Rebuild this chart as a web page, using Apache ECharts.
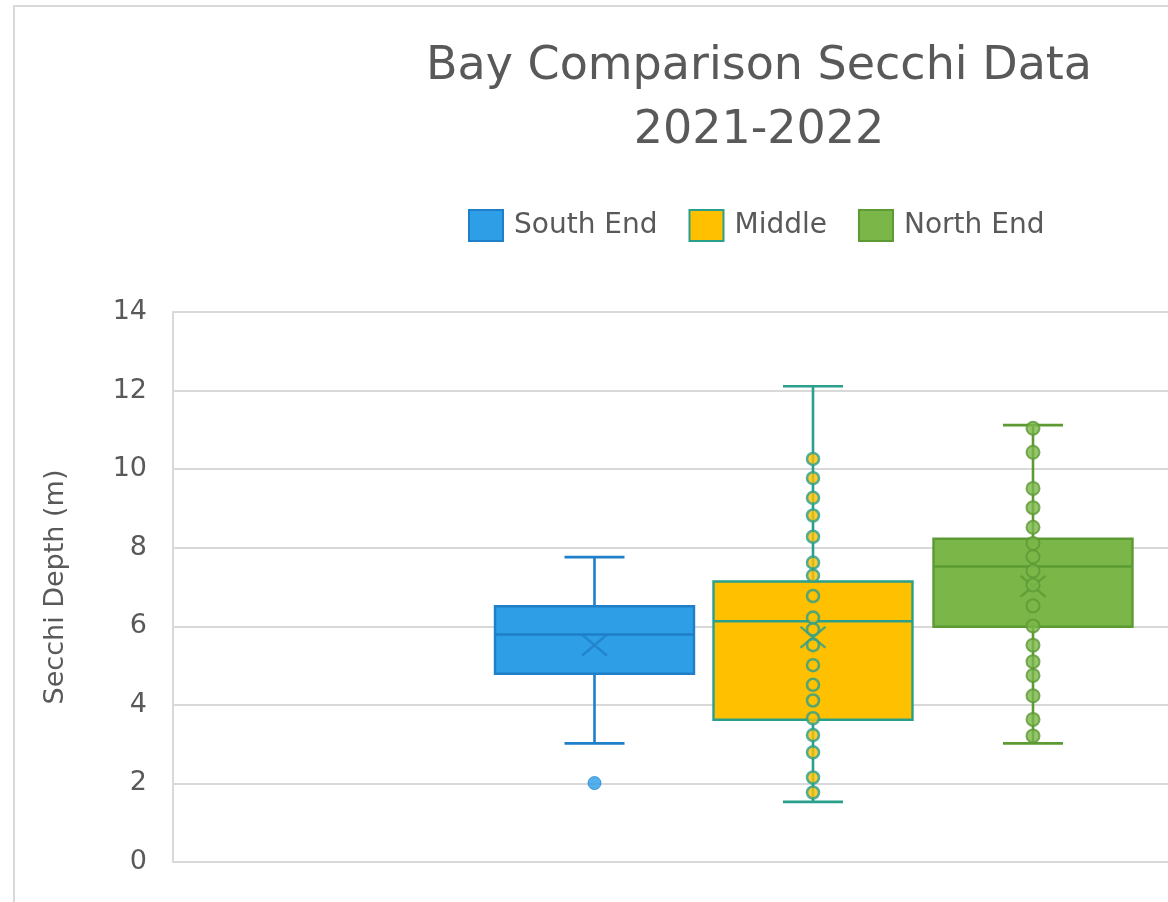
<!DOCTYPE html>
<html>
<head>
<meta charset="utf-8">
<script src="https://cdn.jsdelivr.net/npm/echarts@6/dist/echarts.min.js"></script>
<style>
  html, body { margin: 0; padding: 0; background: #ffffff; }
  #chart { width: 1168px; height: 902px; position: absolute; left: 0; top: 0; }
  #frame { position: absolute; left: 13px; top: 5px; width: 1200px; height: 950px;
           border-left: 2px solid #d9d9d9; border-top: 2px solid #d9d9d9; pointer-events: none; }
</style>
</head>
<body>
<div id="chart"></div>
<div id="frame"></div>
<script>
// ---- data ----
const groups = ['South End', 'Middle', 'North End'];
// [min, Q1, median, Q3, max]
const southBox  = [3.02, 4.79, 5.79, 6.51, 7.76];
const middleBox = [1.53, 3.62, 6.13, 7.14, 12.11];
const northBox  = [3.02, 5.99, 7.52, 8.23, 11.12];
const southMean  = 5.52;
const middleMean = 5.72;
const northMean  = 7.02;
const southOutliers = [2.01];
const middlePoints = [10.26, 9.77, 9.27, 8.82, 8.28, 7.62, 7.29, 6.77, 6.22, 5.92, 5.52,
                      5.01, 4.51, 4.11, 3.66, 3.23, 2.79, 2.15, 1.77];
const northPoints = [11.04, 10.43, 9.51, 9.02, 8.52, 8.11, 7.77, 7.41, 7.05, 6.52, 6.01,
                     5.52, 5.10, 4.75, 4.23, 3.63, 3.21];
const yMin = 0, yMax = 14, yInterval = 2;

// ---- styling ----
const fills   = ['#2e9fe7', '#ffc000', '#7ab648'];
const borders = ['#1f7fc8', '#2a9f8c', '#5c9a34'];
const textColor = '#595959';
const font = 'DejaVu Sans';
const centers = [594.5, 813, 1033];
const gridW = 200;

const boxes = [southBox, middleBox, northBox];
const means = [southMean, middleMean, northMean];

const grids = [{ left: 173, right: -283, top: 312, bottom: 40 }];
const xAxes = [{
  gridIndex: 0, type: 'category', data: [''],
  axisLine: { show: true, lineStyle: { color: '#d9d9d9', width: 2 } },
  axisTick: { show: false }, axisLabel: { show: false }
}];
const yAxes = [{
  gridIndex: 0, type: 'value', min: yMin, max: yMax, interval: yInterval,
  name: 'Secchi Depth (m)', nameLocation: 'middle', nameRotate: 90, nameGap: 104,
  nameTextStyle: { fontFamily: font, fontSize: 27, color: textColor },
  axisLine: { show: true, lineStyle: { color: '#d9d9d9', width: 2 } },
  axisTick: { show: false },
  axisLabel: { fontFamily: font, fontSize: 27, color: textColor, margin: 26 },
  splitLine: { show: true, lineStyle: { color: '#d9d9d9', width: 2 } }
}];
const series = [];

groups.forEach((g, i) => {
  const gi = i + 1;
  grids.push({ left: centers[i] - gridW / 2, width: gridW, top: 312, bottom: 40 });
  // axis for whiskers and axis for box body
  xAxes.push({ gridIndex: gi, type: 'category', data: [g], show: false });
  xAxes.push({ gridIndex: gi, type: 'category', data: [g], show: false });
  yAxes.push({ gridIndex: gi, type: 'value', min: yMin, max: yMax, show: false, splitLine: { show: false } });
  const xw = xAxes.length - 2, xb = xAxes.length - 1, yi = yAxes.length - 1;
  const b = boxes[i];
  // whiskers with short caps
  series.push({
    type: 'boxplot', name: g, xAxisIndex: xw, yAxisIndex: yi, boxWidth: [60, 60], z: 2,
    itemStyle: { color: 'transparent', borderColor: borders[i], borderWidth: 2.6 },
    data: [[b[0], b[2], b[2], b[2], b[4]]], silent: true
  });
  // box body with median
  series.push({
    type: 'boxplot', name: g, xAxisIndex: xb, yAxisIndex: yi, boxWidth: [199, 199], z: 3,
    itemStyle: { color: fills[i], borderColor: borders[i], borderWidth: 2.4 },
    data: [[b[1], b[1], b[2], b[3], b[3]]], silent: true
  });
  // mean marker (X)
  series.push({
    type: 'scatter', name: g, xAxisIndex: xb, yAxisIndex: yi, z: 5,
    symbol: 'path://M0,0L10,10M10,0L0,10', symbolSize: [25, 21],
    itemStyle: { color: 'none', borderColor: borders[i], borderWidth: 2.4 },
    data: [[g, means[i]]], silent: true
  });
});

// inner points / outliers
series.push({
  type: 'scatter', name: 'South End', xAxisIndex: 2, yAxisIndex: 1, z: 6,
  symbol: 'circle', symbolSize: 13,
  itemStyle: { color: '#2b9be5', borderColor: '#2288d6', borderWidth: 1 },
  data: southOutliers.map(v => [groups[0], v]), silent: true
});
series.push({
  type: 'scatter', name: 'Middle', xAxisIndex: 4, yAxisIndex: 2, z: 6,
  symbol: 'circle', symbolSize: 12,
  itemStyle: { color: fills[1], borderColor: borders[1], borderWidth: 2.6 },
  data: middlePoints.map(v => [groups[1], v]), silent: true
});
series.push({
  type: 'scatter', name: 'North End', xAxisIndex: 6, yAxisIndex: 3, z: 6,
  symbol: 'circle', symbolSize: 13,
  itemStyle: { color: fills[2], borderColor: borders[2], borderWidth: 2 },
  data: northPoints.map(v => [groups[2], v]), silent: true
});

const chart = echarts.init(document.getElementById('chart'), null, { renderer: 'canvas' });
chart.setOption({
  backgroundColor: '#ffffff',
  animation: false,
  title: {
    text: 'Bay Comparison Secchi Data\n2021-2022',
    left: 754, top: 30, textAlign: 'center',
    textStyle: { fontFamily: font, fontSize: 46, fontWeight: 'normal', color: textColor, lineHeight: 64 }
  },
  legend: {
    left: 463, top: 204, itemWidth: 34, itemHeight: 31, itemGap: 31, icon: 'rect',
    textStyle: { fontFamily: font, fontSize: 28, color: textColor, padding: [0, 0, 0, 6] },
    selectedMode: false,
    data: groups.map((g, i) => ({
      name: g, icon: 'rect',
      itemStyle: { color: fills[i], borderColor: borders[i], borderWidth: 2 }
    }))
  },
  grid: grids,
  xAxis: xAxes,
  yAxis: yAxes,
  series: series
});
</script>
</body>
</html>
